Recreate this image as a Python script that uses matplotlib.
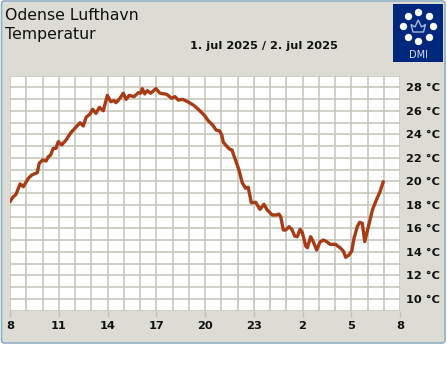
import matplotlib
matplotlib.use("Agg")
import matplotlib.pyplot as plt
from matplotlib.patches import FancyBboxPatch, Rectangle, Polygon, Circle

hours = [0,.17,.37,.62,.82,1.13,1.34,1.68,1.80,2.01,2.22,2.36,2.50,2.66,2.83,2.97,3.18,3.45,3.74,4.0,4.31,4.51,4.68,4.92,5.09,5.29,5.50,5.74,5.99,6.2,6.4,6.52,6.77,6.97,7.14,7.34,7.63,7.9,8.04,8.14,8.29,8.45,8.66,8.98,9.23,9.64,9.95,10.15,10.36,10.63,10.97,11.28,11.59,12.0,12.2,12.47,12.68,12.88,13.03,13.13,13.5,13.66,14.09,14.29,14.5,14.66,14.85,15.12,15.38,15.63,15.83,16.14,16.41,16.55,16.66,16.82,16.97,17.17,17.34,17.52,17.68,17.85,17.99,18.2,18.3,18.5,18.66,18.87,19.08,19.28,19.49,19.69,20.04,20.35,20.51,20.66,20.86,21.03,21.17,21.37,21.52,21.68,21.83,22.03,22.3,22.5,22.77,22.97]
temps = [18.26,18.63,18.89,19.77,19.54,20.25,20.53,20.73,21.53,21.81,21.72,22.09,22.23,22.80,22.80,23.37,23.09,23.51,24.13,24.51,24.98,24.70,25.44,25.72,26.12,25.78,26.29,26.0,27.31,26.77,26.86,26.69,27.06,27.49,26.97,27.31,27.2,27.54,27.49,27.88,27.43,27.71,27.49,27.88,27.49,27.4,27.06,27.2,26.91,26.97,26.74,26.49,26.12,25.55,25.15,24.79,24.36,24.3,23.94,23.31,22.74,22.66,20.96,19.88,19.4,19.49,18.17,18.21,17.61,18.04,17.55,17.13,17.13,17.21,16.98,15.85,15.85,16.13,15.91,15.34,15.28,15.91,15.62,14.49,14.34,15.28,14.86,14.15,14.83,15.0,14.86,14.63,14.63,14.29,14.06,13.53,13.72,14.06,15.14,16.13,16.51,16.42,14.86,16.0,17.55,18.26,19.11,19.96]
x_tick_pos = [0,3,6,9,12,15,18,21,24]
x_tick_labels = ["8","11","14","17","20","23","2","5","8"]
y_tick_pos = [10,12,14,16,18,20,22,24,26,28]
y_tick_labels = [f"{v} °C" for v in y_tick_pos]
title_lines = ["Odense Lufthavn", "Temperatur"]
date_text = "1. jul 2025 / 2. jul 2025"

W, H = 447, 370
PANEL = "#dcdcd4"; EDGE = "#8fb0c4"; GRID = "#c2c2b6"; LINE = "#a63c16"; NAVY = "#00277e"; TXT = "#101010"

fig = plt.figure(figsize=(W/100, H/100), dpi=100, facecolor="white")
bg = fig.add_axes([0, 0, 1, 1]); bg.set_xlim(0, W); bg.set_ylim(H, 0); bg.axis("off")
bg.add_patch(FancyBboxPatch((1.5, 1), W-3.5, 342, boxstyle="round,pad=0,rounding_size=3",
                            fc=PANEL, ec=EDGE, lw=1.2))

ax = fig.add_axes([10/W, 1-310.5/H, 390/W, 235/H])
ax.set_xlim(0, 24); ax.set_ylim(9, 29)
ax.set_facecolor("white")
ax.set_xticks(range(0, 25), minor=True); ax.set_yticks(range(9, 30), minor=True)
ax.grid(which="both", color=GRID, lw=1.1); ax.set_axisbelow(True)
ax.set_xticks(x_tick_pos); ax.set_xticklabels(x_tick_labels, fontsize=8.2, fontweight="bold", color=TXT)
ax.yaxis.tick_right()
ax.set_yticks(y_tick_pos); ax.set_yticklabels(y_tick_labels, fontsize=8.2, fontweight="bold", color=TXT)
ax.tick_params(axis="x", which="major", length=4, width=1, color=GRID, pad=3.5)
ax.tick_params(axis="y", which="major", length=0, pad=4)
ax.tick_params(which="minor", length=0)
for s in ax.spines.values():
    s.set_visible(False)
ax.plot(hours, temps, color=LINE, lw=2.4, solid_joinstyle="round", solid_capstyle="round", zorder=3)

bg.text(5, 15, title_lines[0], fontsize=11.3, color=TXT, va="center", ha="left")
bg.text(5, 35, title_lines[1], fontsize=11.3, color=TXT, va="center", ha="left")
bg.text(190, 46, date_text, fontsize=8.2, fontweight="bold", color=TXT, va="center", ha="left")

logo = fig.add_axes([393/W, 1-62/H, 50/W, 58/H])
logo.set_xlim(393, 443); logo.set_ylim(62, 4); logo.axis("off")
logo.add_patch(Rectangle((393, 4), 50, 58, fc=NAVY, ec="none"))
dots_x = [418, 407.5, 428.5, 403, 433, 407.5, 428.5, 418]
dots_y = [11.5, 15.5, 15.5, 26, 26, 36.5, 36.5, 41]
logo.scatter(dots_x, dots_y, s=28, color="white", linewidths=0)
logo.add_patch(Polygon([(413,32),(423.5,32),(425.5,24.5),(421.5,27),(418.2,20),(415,27),(411,24.5)],
                       fc="none", ec="#aab6d8", lw=1.0))
logo.text(418, 55, "DMI", fontsize=7, color="#d8def0", ha="center", va="center")

fig.savefig("out.png", dpi=100, facecolor="white")
